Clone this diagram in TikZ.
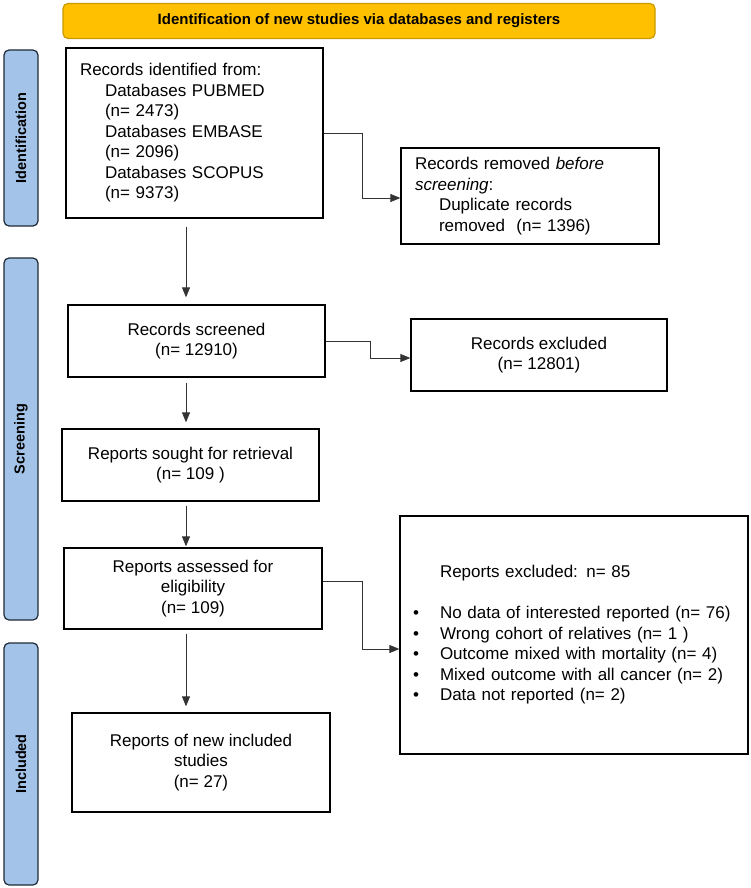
\documentclass[tikz,border=0pt]{standalone}
\usepackage{fontspec}
\setmainfont{Liberation Sans}
\usetikzlibrary{arrows.meta}

\definecolor{bannergold}{HTML}{FFC000}
\definecolor{bannerline}{HTML}{C99A00}
\definecolor{stageblue}{HTML}{A4C3E8}
\definecolor{stageline}{HTML}{1F2A36}

\begin{document}
\begin{tikzpicture}[x=1pt,y=-1pt]
\tikzstyle{every node}=[font=\fontsize{17}{20.5}\selectfont]
\tikzstyle{box}=[draw=black,line width=1.3pt,inner sep=0pt,align=center]
\tikzstyle{leftbox}=[box,align=left,inner xsep=14pt]
\tikzstyle{stage}=[draw=stageline,fill=stageblue,line width=1.2pt,rounded corners=5pt,
  minimum width=34pt,inner sep=0pt]
\tikzstyle{stagetext}=[rotate=90,font=\fontsize{14.5}{17}\selectfont\bfseries]
\tikzstyle{arr}=[-{Triangle[length=10pt,width=8pt]},line width=0.9pt,draw=black!80]

\useasboundingbox (0,0) rectangle (750,888);

% banner and stage bars
\node[draw=bannerline,fill=bannergold,line width=1.2pt,rounded corners=5pt,
  minimum width=592pt,minimum height=35pt,font=\fontsize{15}{18}\selectfont\bfseries]
  (banner) at (359,21) {Identification of new studies via databases and registers};

\node[stage,minimum height=176pt] (idbar) at (21,138) {};
\node[stagetext] (idlabel) at (idbar.center) {Identification};
\node[stage,minimum height=362pt] (scbar) at (21,439) {};
\node[stagetext] (sclabel) at (scbar.center) {Screening};
\node[stage,minimum height=242pt] (inbar) at (21,764) {};
\node[stagetext] (inlabel) at (inbar.center) {Included};

% boxes
\node[leftbox,text width=229pt,minimum height=170pt] (ident) at (194.5,133)
  {Records identified from:\\
   \hspace*{25pt}Databases PUBMED\\
   \hspace*{25pt}(n= 2473)\\
   \hspace*{25pt}Databases EMBASE\\
   \hspace*{25pt}(n= 2096)\\
   \hspace*{25pt}Databases SCOPUS\\
   \hspace*{25pt}(n= 9373)};
\node[leftbox,text width=230pt,minimum height=96pt] (removed) at (530,196)
  {Records removed \emph{before}\\
   \emph{screening}:\\
   \hspace*{24pt}Duplicate records\\
   \hspace*{24pt}removed\ \ (n= 1396)};

\node[box,minimum width=257pt,minimum height=72pt] (screened) at (196.5,341)
  {Records screened\\(n= 12910)};
\node[box,minimum width=256pt,minimum height=72pt] (excluded) at (539,355)
  {Records excluded\\(n= 12801)};

\node[box,minimum width=257pt,minimum height=72pt] (sought) at (190.5,465)
  {Reports sought for retrieval\\(n= 109 )};

\node[box,minimum width=258pt,minimum height=81pt] (assessed) at (193,588.5)
  {Reports assessed for\\eligibility\\(n= 109)};
\node[leftbox,inner xsep=13pt,text width=322pt,minimum height=238pt] (rexcl) at (574,635)
  {\hspace*{27pt}Reports excluded: n= 85\\[20.5pt]
   \makebox[27pt][l]{\textbullet}No data of interested reported (n= 76)\\
   \makebox[27pt][l]{\textbullet}Wrong cohort of relatives (n= 1 )\\
   \makebox[27pt][l]{\textbullet}Outcome mixed with mortality (n= 4)\\
   \makebox[27pt][l]{\textbullet}Mixed outcome with all cancer (n= 2)\\
   \makebox[27pt][l]{\textbullet}Data not reported (n= 2)};

\node[box,minimum width=258pt,minimum height=99pt] (included) at (201,762.5)
  {Reports of new included\\studies\\(n= 27)};

% connectors
\coordinate (col) at (186,0);
\draw[arr,shorten <=8pt,shorten >=7pt] (ident.south -| col) -- (screened.north -| col);
\draw[arr,shorten <=5pt,shorten >=6pt] (screened.south -| col) -- (sought.north -| col);
\draw[arr,shorten <=4pt,shorten >=1pt] (sought.south -| col) -- (assessed.north -| col);
\draw[arr,shorten <=4pt,shorten >=6pt] (assessed.south -| col) -- (included.north -| col);

\draw[arr] (ident.east) -- ++(39,0) |- ([yshift=-2pt]removed.west);
\draw[arr] (screened.east) -- ++(45,0) |- ([yshift=-3pt]excluded.west);
\draw[arr] ([yshift=7.5pt]assessed.east) -- ++(40,0) |- ([yshift=-14pt]rexcl.west);

\end{tikzpicture}
\end{document}
